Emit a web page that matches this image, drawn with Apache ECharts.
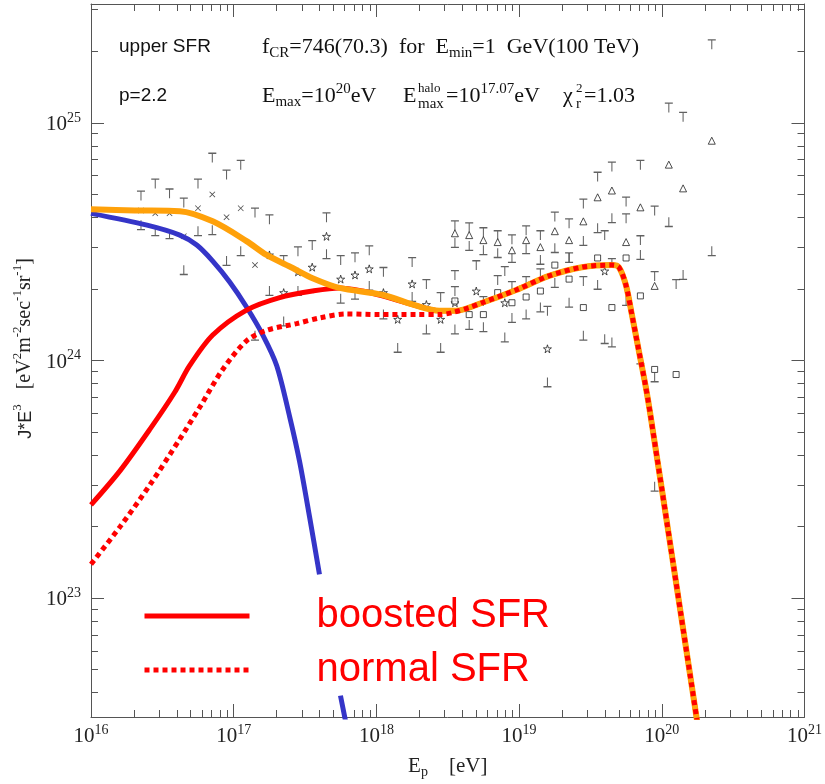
<!DOCTYPE html>
<html>
<head>
<meta charset="utf-8">
<script src="https://cdn.jsdelivr.net/npm/echarts@6/dist/echarts.min.js"></script>
<style>html,body{margin:0;padding:0;background:#fff}#c{width:825px;height:784px}</style>
</head>
<body>
<div id="c"></div>
<script>
// ---------- data (E in eV, J*E^3 in eV^2 m^-2 s^-1 sr^-1) ----------
const majorX = [1e16, 1e17, 1e18, 1e19, 1e20, 1e21];
const majorY = [1e23, 1e24, 1e25];

// halo component (blue)
const haloE = [1e16, 2.47e16, 4.19e16, 5.51e16, 7.13e16, 9.37e16, 1.23e17, 1.60e17, 2.00e17, 2.47e17, 2.90e17, 3.40e17, 3.99e17, 4.6e17, 5.60e17, 6.26e17];
const haloJ = [4.16e24, 3.71e24, 3.37e24, 3.06e24, 2.62e24, 2.14e24, 1.68e24, 1.28e24, 9.53e23, 5.78e23, 3.74e23, 2.20e23, 1.26e23, null, 3.89e22, 2.78e22];

// total (orange)
const totalE = [1e16, 2.03e16, 4.19e16, 7.13e16, 1.23e17, 1.70e17, 2.59e17, 3.57e17, 5.51e17, 1.10e18, 1.91e18, 2.76e18, 3.62e18, 5.51e18, 9.53e18, 1.62e19, 2.76e19, 4.47e19, 5.00e19, 5.60e19, 6.17e19, 6.90e19, 7.73e19, 8.37e19, 1.21e20, 1.97e20];
const totalJ = [4.33e24, 4.28e24, 4.25e24, 3.85e24, 3.18e24, 2.78e24, 2.45e24, 2.22e24, 2.02e24, 1.89e24, 1.70e24, 1.62e24, 1.62e24, 1.75e24, 1.98e24, 2.27e24, 2.47e24, 2.52e24, 2.47e24, 2.08e24, 1.56e24, 1.10e24, 7.71e23, 5.78e23, 1.36e23, 1.98e22];

// boosted SFR (red solid)
const boostE = [1e16, 1.60e16, 2.59e16, 3.86e16, 4.92e16, 7.13e16, 1.23e17, 2.10e17, 3.57e17, 5.51e17, 7.98e17, 1.10e18, 1.91e18, 2.76e18, 3.62e18, 5.51e18, 9.53e18, 1.62e19, 2.76e19, 4.47e19, 5.00e19, 5.60e19, 6.17e19, 6.90e19, 7.73e19, 8.37e19, 1.21e20, 1.97e20];
const boostJ = [2.47e23, 3.44e23, 5.14e23, 7.35e23, 9.53e23, 1.28e24, 1.63e24, 1.84e24, 1.96e24, 2.02e24, 1.96e24, 1.87e24, 1.70e24, 1.62e24, 1.62e24, 1.75e24, 1.98e24, 2.27e24, 2.47e24, 2.52e24, 2.47e24, 2.08e24, 1.56e24, 1.10e24, 7.71e23, 5.78e23, 1.36e23, 1.98e22];

// normal SFR (red dotted)
const normE = [1e16, 1.60e16, 2.59e16, 4.19e16, 5.78e16, 8.38e16, 1.23e17, 1.70e17, 2.76e17, 3.99e17, 6.17e17, 1.05e18, 1.91e18, 2.76e18, 3.40e18, 4.47e18, 5.51e18, 9.53e18, 1.62e19, 2.76e19, 4.47e19, 5.00e19, 5.60e19, 6.17e19, 6.90e19, 7.73e19, 8.37e19, 1.21e20, 1.97e20];
const normJ = [1.39e23, 2.00e23, 3.00e23, 4.67e23, 6.36e23, 9.17e23, 1.21e24, 1.34e24, 1.43e24, 1.51e24, 1.57e24, 1.56e24, 1.56e24, 1.56e24, 1.59e24, 1.67e24, 1.75e24, 1.98e24, 2.27e24, 2.47e24, 2.52e24, 2.47e24, 2.08e24, 1.56e24, 1.10e24, 7.71e23, 5.78e23, 1.36e23, 1.98e22];

// data error-bar upper ends (T)
const capTopE = [2.24e16, 2.82e16, 3.55e16, 4.47e16, 5.62e16, 7.08e16, 8.91e16, 1.12e17, 1.41e17, 1.78e17, 2.24e17, 2.82e17, 3.55e17, 4.47e17, 5.62e17, 7.08e17, 8.91e17,
  1.12e18, 1.78e18, 2.24e18, 2.82e18, 3.55e18, 3.55e18, 3.55e18, 4.47e18, 5.01e18, 5.62e18, 5.62e18, 7.08e18, 7.08e18, 7.94e18, 8.91e18, 8.91e18, 1.12e19, 1.12e19, 1.41e19, 1.41e19, 1.58e19, 1.78e19, 2.24e19, 2.24e19, 2.82e19, 2.82e19, 3.55e19, 3.98e19, 4.47e19, 4.47e19, 5.62e19, 5.62e19, 7.08e19, 7.08e19, 8.91e19, 8.91e19, 1.12e20, 1.26e20, 1.41e20, 2.24e20];
const capTopJ = [4.95e24, 5.56e24, 5.05e24, 4.62e24, 5.56e24, 7.14e24, 6.06e24, 6.67e24, 4.20e24, 3.93e24, 2.65e24, 2.88e24, 3.06e24, 4.01e24, 2.65e24, 2.72e24, 2.91e24,
  2.36e24, 2.60e24, 2.10e24, 1.85e24, 2.29e24, 3.71e24, 1.96e24, 3.64e24, 2.52e24, 3.47e24, 1.78e24, 3.37e24, 2.18e24, 2.38e24, 3.24e24, 2.06e24, 3.53e24, 2.16e24, 3.37e24, 2.33e24, 1.62e24, 4.04e24, 3.78e24, 2.72e24, 4.58e24, 2.16e24, 5.94e24, 3.37e24, 6.55e24, 2.57e24, 4.67e24, 3.97e24, 3.21e24, 6.67e24, 4.28e24, 2.27e24, 1.16e25, 2.10e24, 1.06e25, 2.14e25];

// data error-bar lower ends (⊥)
const capBotE = [2.24e16, 2.82e16, 3.55e16, 4.47e16, 5.62e16, 7.08e16, 8.91e16, 1.12e17, 1.41e17, 1.78e17, 2.24e17, 2.82e17, 4.47e17, 5.62e17, 7.08e17, 8.91e17,
  1.12e18, 1.41e18, 1.78e18, 2.24e18, 2.82e18, 3.55e18, 3.55e18, 4.47e18, 4.47e18, 5.62e18, 5.62e18, 7.08e18, 7.94e18, 8.91e18, 8.91e18, 1.12e19, 1.12e19, 1.41e19, 1.41e19, 1.58e19, 1.78e19, 1.78e19, 2.24e19, 2.24e19, 2.82e19, 2.82e19, 3.55e19, 3.55e19, 3.98e19, 4.47e19, 4.47e19, 5.62e19, 7.08e19, 7.08e19, 8.91e19, 8.91e19, 1.12e20, 1.41e20, 2.24e20];
const capBotJ = [3.71e24, 3.50e24, 3.40e24, 2.40e24, 3.50e24, 3.53e24, 2.62e24, 2.88e24, 1.27e24, 1.96e24, 1.46e24, 1.96e24, 2.80e24, 1.82e24, 1.89e24, 2.06e24,
  1.56e24, 1.13e24, 1.85e24, 1.35e24, 1.13e24, 1.35e24, 3.12e24, 3.03e24, 1.41e24, 2.91e24, 1.38e24, 2.83e24, 1.25e24, 2.70e24, 1.51e24, 2.94e24, 1.56e24, 2.65e24, 1.67e24, 8.09e23, 2.97e24, 2.12e24, 2.70e24, 1.75e24, 3.18e24, 1.27e24, 3.60e24, 2.08e24, 1.23e24, 1.19e24, 3.97e24, 1.78e24, 2.78e24, 1.01e24, 8.49e23, 2.94e23, 3.82e24, 2.29e24, 2.88e24];

const crossE = [2.24e16, 2.82e16, 3.55e16, 4.47e16, 5.62e16, 7.08e16, 8.91e16, 1.12e17, 1.41e17];
const crossJ = [4.28e24, 4.16e24, 4.16e24, 3.33e24, 4.37e24, 5.00e24, 4.01e24, 4.37e24, 2.52e24];

const starE = [1.78e17, 2.24e17, 2.82e17, 3.55e17, 4.47e17, 5.62e17, 7.08e17, 8.91e17, 1.12e18, 1.41e18, 1.78e18, 2.24e18, 2.82e18, 3.55e18, 5.01e18, 7.94e18, 1.58e19, 3.98e19];
const starJ = [2.78e24, 1.93e24, 2.36e24, 2.47e24, 3.33e24, 2.20e24, 2.29e24, 2.43e24, 1.93e24, 1.49e24, 2.10e24, 1.72e24, 1.49e24, 1.75e24, 1.96e24, 1.75e24, 1.12e24, 2.38e24];

const triE = [3.55e18, 4.47e18, 5.62e18, 7.08e18, 8.91e18, 1.12e19, 1.41e19, 1.78e19, 2.24e19, 2.82e19, 3.55e19, 4.47e19, 5.62e19, 7.08e19, 8.91e19, 1.12e20, 1.41e20, 2.24e20];
const triJ = [3.43e24, 3.37e24, 3.21e24, 3.15e24, 2.91e24, 3.21e24, 3.00e24, 3.50e24, 3.21e24, 3.85e24, 4.86e24, 5.19e24, 3.15e24, 4.41e24, 2.06e24, 6.67e24, 5.30e24, 8.41e24];

const sqE = [3.55e18, 4.47e18, 5.62e18, 7.08e18, 8.91e18, 1.12e19, 1.41e19, 1.78e19, 2.24e19, 2.82e19, 3.55e19, 4.47e19, 5.62e19, 7.08e19, 8.91e19, 1.26e20];
const sqJ = [1.78e24, 1.56e24, 1.56e24, 1.93e24, 1.75e24, 1.85e24, 1.96e24, 2.52e24, 2.20e24, 1.67e24, 2.70e24, 1.67e24, 2.70e24, 1.87e24, 9.17e23, 8.73e23];

// ---------- chart ----------
const zip = (a, b) => a.map((v, i) => [v, b[i]]);
const minorTicks = (lo, hi) => { const out = []; for (let d = lo; d <= hi; d++) for (let k = 2; k <= 9; k++) out.push(k * Math.pow(10, d)); return out; };
const minorX = minorTicks(16, 20);
const minorY = minorTicks(22, 25).filter(v => v > 3.17e22 && v < 3.16e25);
const X_MIN = 1e16, X_MAX = 1e21, Y_MIN = 3.1623e22, Y_MAX = 3.1623e25;
// keep edge ticks strictly inside the axis extent
const clampIn = (v, lo, hi) => Math.min(Math.max(v, lo * (1 + 1e-9)), hi * (1 - 1e-9));
const AX = '#555';
const SERIF = 'Liberation Serif';
const SANS = 'Liberation Sans';
const fmtPow = v => '{b|10}{s|' + Math.round(Math.log10(v)) + '}';
const labRich = {
  b: { fontFamily: SERIF, fontSize: 21, lineHeight: 24, color: '#222', verticalAlign: 'bottom' },
  s: { fontFamily: SERIF, fontSize: 14, lineHeight: 13, color: '#222', verticalAlign: 'top' }
};
function axis(kind, pos, ticks, len, line, labels) {
  const lo = kind === 'x' ? X_MIN : Y_MIN, hi = kind === 'x' ? X_MAX : Y_MAX;
  const t = ticks.map(v => clampIn(v, lo, hi));
  return {
    type: 'log', logBase: 10, min: lo, max: hi, position: pos, gridIndex: 0,
    axisLine: { show: line, lineStyle: { color: AX, width: 1 } },
    axisTick: { show: true, inside: true, length: len, customValues: t, lineStyle: { color: AX, width: 1 } },
    axisLabel: labels ? { show: true, customValues: t, formatter: fmtPow, rich: labRich, margin: kind === 'x' ? 6 : 10 } : { show: false },
    splitLine: { show: false }, minorTick: { show: false }
  };
}
const xAxes = [axis('x', 'bottom', majorX, 13, true, true), axis('x', 'bottom', minorX, 7, false, false), axis('x', 'top', majorX, 13, true, false), axis('x', 'top', minorX, 7, false, false)];
xAxes[0].name = '{n|E}{sub|p}{n|    [eV]}';
xAxes[0].nameLocation = 'middle';
xAxes[0].nameGap = 36;
xAxes[0].nameTextStyle = { rich: {
  n: { fontFamily: SERIF, fontSize: 21, lineHeight: 26, color: '#222', verticalAlign: 'middle' },
  sub: { fontFamily: SERIF, fontSize: 14, lineHeight: 12, color: '#222', verticalAlign: 'bottom' } } };
const yAxes = [axis('y', 'left', majorY, 13, true, true), axis('y', 'left', minorY, 7, false, false), axis('y', 'right', majorY, 13, true, false), axis('y', 'right', minorY, 7, false, false)];
yAxes[0].name = '{a|J*E}{sup|3}{n|   [eV}{sup|2}{n|m}{sup|-2}{n|sec}{sup|-1}{n|sr}{sup|-1}{n|]}';
yAxes[0].nameLocation = 'middle';
yAxes[0].nameRotate = 90;
yAxes[0].nameGap = 50;
yAxes[0].nameTextStyle = { padding: [0, 0, 0, 24], rich: {
  a: { fontFamily: SANS, fontSize: 18, lineHeight: 24, color: '#222', verticalAlign: 'bottom' },
  n: { fontFamily: SERIF, fontSize: 20, lineHeight: 24, color: '#222', verticalAlign: 'bottom' },
  sup: { fontFamily: SERIF, fontSize: 13, lineHeight: 12, color: '#222', verticalAlign: 'top' } } };

const TPATH = 'path://M0,0H10V1.3H5.65V10H4.35V1.3H0Z';
const BPATH = 'path://M4.35,0H5.65V8.7H10V10H0V8.7H4.35Z';
const XPATH = 'path://M0,0.9L0.9,0L5,4.1L9.1,0L10,0.9L5.9,5L10,9.1L9.1,10L5,5.9L0.9,10L0,9.1L4.1,5Z';
const STAR = 'path://M50,0L61,35L98,35L68,57L79,91L50,70L21,91L32,57L2,35L39,35Z';
const scat = (data, symbol, size, style) => ({ type: 'scatter', data, symbol, symbolSize: size, itemStyle: style, silent: true, z: 2 });

const RED = '#ff0000';
const mkLegend = (name, top) => ({
  data: [name], left: 142, top, itemWidth: 105, itemHeight: 6, selectedMode: false, padding: 0,
  itemStyle: { opacity: 0 },
  lineStyle: { width: 5 },
  formatter: n => '{g|}{t|' + n + '}',
  textStyle: { rich: { g: { width: 62 }, t: { fontFamily: SANS, fontSize: 40, lineHeight: 46, color: RED } } }
});

const rich = {
  n: { fontFamily: SERIF, fontSize: 22, lineHeight: 28, fill: '#111', verticalAlign: 'middle' },
  sub: { fontFamily: SERIF, fontSize: 15, lineHeight: 14, fill: '#111', verticalAlign: 'bottom' },
  sup: { fontFamily: SERIF, fontSize: 15, lineHeight: 14, fill: '#111', verticalAlign: 'top' }
};
const txt = (x, y, text) => ({ type: 'text', x, y, z: 100, silent: true, style: { text, rich, fill: '#111', fontFamily: SERIF, fontSize: 22, verticalAlign: 'middle' } });
const plain = (x, y, text, size, fam) => ({ type: 'text', x, y, z: 100, silent: true, style: { text, fill: '#111', fontFamily: fam || SERIF, fontSize: size, verticalAlign: 'middle' } });

const chart = echarts.init(document.getElementById('c'), null, { renderer: 'canvas' });
chart.setOption({
  animation: false,
  backgroundColor: '#fff',
  grid: { left: 91, right: 19, top: 4, bottom: 64, containLabel: false },
  xAxis: xAxes,
  yAxis: yAxes,
  legend: [mkLegend('boosted SFR', 596), mkLegend('normal SFR', 650)],
  series: [
    scat(zip(capTopE, capTopJ), TPATH, [8, 10], { color: '#3a3a3a' }),
    scat(zip(capBotE, capBotJ), BPATH, [8, 10], { color: '#3a3a3a' }),
    scat(zip(crossE, crossJ), XPATH, 6, { color: '#222' }),
    scat(zip(starE, starJ), STAR, 8, { color: '#fff', borderColor: '#222', borderWidth: 1 }),
    scat(zip(triE, triJ), 'triangle', 7, { color: '#fff', borderColor: '#222', borderWidth: 1 }),
    scat(zip(sqE, sqJ), 'rect', 6, { color: '#fff', borderColor: '#222', borderWidth: 1 }),
    { type: 'line', name: 'halo', data: zip(haloE, haloJ), symbol: 'none', smooth: 0.3, connectNulls: false, lineStyle: { color: '#3535c8', width: 5 }, silent: true, z: 3 },
    { type: 'line', name: 'boosted SFR', data: zip(boostE, boostJ), symbol: 'none', smooth: 0.3, color: RED, lineStyle: { color: RED, width: 5 }, silent: true, z: 3 },
    { type: 'line', name: 'total', data: zip(totalE, totalJ), symbol: 'none', smooth: 0.3, lineStyle: { color: '#ffa10a', width: 6 }, silent: true, z: 3 },
    { type: 'line', name: 'normal SFR', data: zip(normE, normJ), symbol: 'none', smooth: 0.3, color: RED, lineStyle: { color: RED, width: 5, type: [5, 4] }, silent: true, z: 3 }
  ],
  graphic: [
    plain(119, 47, 'upper SFR', 19, SANS),
    plain(119, 96, 'p=2.2', 19, SANS),
    txt(262, 47, '{n|f}{sub|CR}{n|=746(70.3)  for  E}{sub|min}{n|=1  GeV(100 TeV)}'),
    txt(262, 96, '{n|E}{sub|max}{n|=10}{sup|20}{n|eV}'),
    txt(403, 96, '{n|E}'),
    plain(418, 89, 'halo', 13),
    plain(418, 104, 'max', 15),
    txt(446, 96, '{n|=10}{sup|17.07}{n|eV}'),
    txt(563, 96, '{n|χ}'),
    plain(576, 89, '2', 13),
    plain(576, 104, 'r', 15),
    txt(584, 96, '{n|=1.03}')
  ]
});
</script>
</body>
</html>
